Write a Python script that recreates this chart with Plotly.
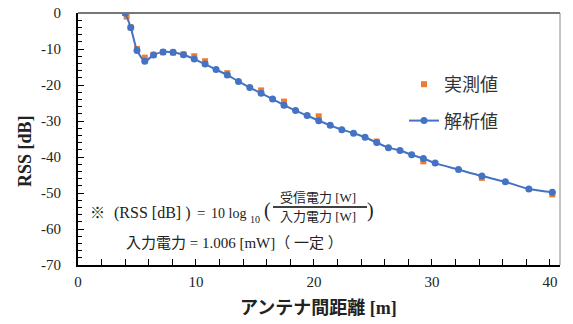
import plotly.graph_objects as go

# Analytical values (解析値)
calc_x = [4.0, 4.47, 5.0, 5.66, 6.40, 7.21, 8.06, 8.94, 9.85, 10.77, 11.70, 12.65, 13.6, 14.56,
          15.52, 16.49, 17.46, 18.44, 19.42, 20.4, 21.38, 22.36, 23.35, 24.33, 25.32, 26.31,
          27.29, 28.28, 29.27, 30.27, 32.25, 34.23, 36.22, 38.21, 40.2]
calc_y = [0.0, -4.0, -10.4, -13.4, -11.7, -10.8, -10.9, -11.6, -12.8, -14.2, -15.7, -17.2, -19.0, -20.7,
          -22.3, -23.9, -25.6, -27.1, -28.5, -29.9, -31.2, -32.4, -33.4, -34.5, -36.0, -37.4,
          -38.2, -39.4, -40.4, -41.7, -43.5, -45.3, -46.9, -48.9, -49.8]

# Measured values (実測値)
meas_x = [4.0, 4.12, 4.47, 5.0, 5.66, 6.40, 7.21, 8.06, 8.94, 9.85, 10.77, 12.65, 15.52, 17.46,
          20.4, 25.32, 29.27, 34.23, 40.2]
meas_y = [0.0, -1.0, -4.0, -10.0, -12.4, -11.6, -10.9, -11.0, -11.5, -12.0, -13.4, -16.7, -21.5, -24.6,
          -28.7, -35.7, -41.2, -45.8, -50.4]

x_ticks = [0, 10, 20, 30, 40]
y_ticks = [0, -10, -20, -30, -40, -50, -60, -70]

W, H = 573, 324
ML, MR, MT, MB = 78, 13, 13, 59
PW, PH = W - ML - MR, H - MT - MB


def px(x):
    return (x - ML) / PW


def py(y):
    return (H - MB - y) / PH


SERIF = "Liberation Serif, Noto Sans CJK JP"
JP = "Noto Sans CJK JP"
BLUE = "#4472C4"
ORANGE = "#ED7D31"
TXT = "#222222"

fig = go.Figure()
fig.add_trace(go.Scatter(
    x=meas_x, y=meas_y, mode="markers", name="実測値",
    marker=dict(symbol="square", size=6, color=ORANGE),
    legendgroup="a",
))
fig.add_trace(go.Scatter(
    x=calc_x, y=calc_y, mode="lines+markers", name="解析値",
    line=dict(color=BLUE, width=2, shape="spline", smoothing=0.6),
    marker=dict(symbol="circle", size=7, color=BLUE),
    legendgroup="b",
))

fig.update_layout(
    width=W, height=H,
    margin=dict(l=ML, r=MR, t=MT, b=MB, autoexpand=False),
    paper_bgcolor="white", plot_bgcolor="white",
    showlegend=True,
    legend=dict(x=px(404), y=py(66), xanchor="left", yanchor="top",
                font=dict(family=JP, size=18, color="#333333"),
                tracegroupgap=10, bgcolor="rgba(0,0,0,0)"),
    xaxis=dict(range=[0, 40.85], tickvals=x_ticks, ticktext=[str(v) for v in x_ticks],
               ticks="inside", ticklen=6, tickwidth=1, automargin=False,
               tickcolor="black", showline=True, linecolor="black", linewidth=1.5,
               showgrid=False, zeroline=False, mirror=False, ticklabeloverflow="allow",
               minor=dict(dtick=2, ticks="inside", ticklen=6, tickcolor="black"),
               tickfont=dict(family=SERIF, size=15, color=TXT), ticklabelstandoff=2),
    yaxis=dict(range=[-70, 0], tickvals=y_ticks, ticktext=[str(v) for v in y_ticks],
               ticks="inside", ticklen=6, tickwidth=1, automargin=False,
               tickcolor="black", showline=True, linecolor="black", linewidth=2,
               showgrid=False, zeroline=False, ticklabeloverflow="allow",
               minor=dict(dtick=2, ticks="inside", ticklen=4, tickcolor="black"),
               tickfont=dict(family=SERIF, size=15, color=TXT), ticklabelstandoff=12),
)

# Plot area border (top and right)
fig.add_shape(type="line", xref="paper", yref="paper", x0=0, x1=1, y0=1, y1=1,
              line=dict(color="#777777", width=2))
fig.add_shape(type="line", xref="paper", yref="paper", x0=1, x1=1, y0=0, y1=1,
              line=dict(color="#888888", width=1))


def note(x, y, text, size, xanchor="center", **kw):
    fig.add_annotation(xref="paper", yref="paper", x=px(x), y=py(y), text=text,
                       xanchor=xanchor, yanchor="middle", showarrow=False,
                       font=dict(family=SERIF, size=size, color=TXT), **kw)


# Axis titles
note(25, 151, "<b>RSS [dB]</b>", 18, textangle=-90)
note(318, 308, "<b>アンテナ間距離 [m]</b>", 18)

# Formula note
note(97, 213, "※", 15)
note(112, 213, "(RSS [dB] )", 16, xanchor="left")
note(201, 213, "=", 15)
note(248, 213, "10 log", 14, xanchor="right")
note(255, 219, "10", 10)
note(267, 210, "(", 20)
note(370, 210, ")", 20)
note(318, 197, "受信電力 [W]", 13)
note(318, 216, "入力電力 [W]", 13)
fig.add_shape(type="line", xref="paper", yref="paper", x0=px(273), x1=px(367), y0=py(207), y1=py(207),
              line=dict(color="black", width=1.5))
note(234, 243, "入力電力 = 1.006 [mW]（ 一定 ）", 15)

# remove the browser's default 8px body margin so the figure sits at the window corner
fig.write_html("out.html", config={"displayModeBar": False},
               post_script="document.body.style.margin='0';")
